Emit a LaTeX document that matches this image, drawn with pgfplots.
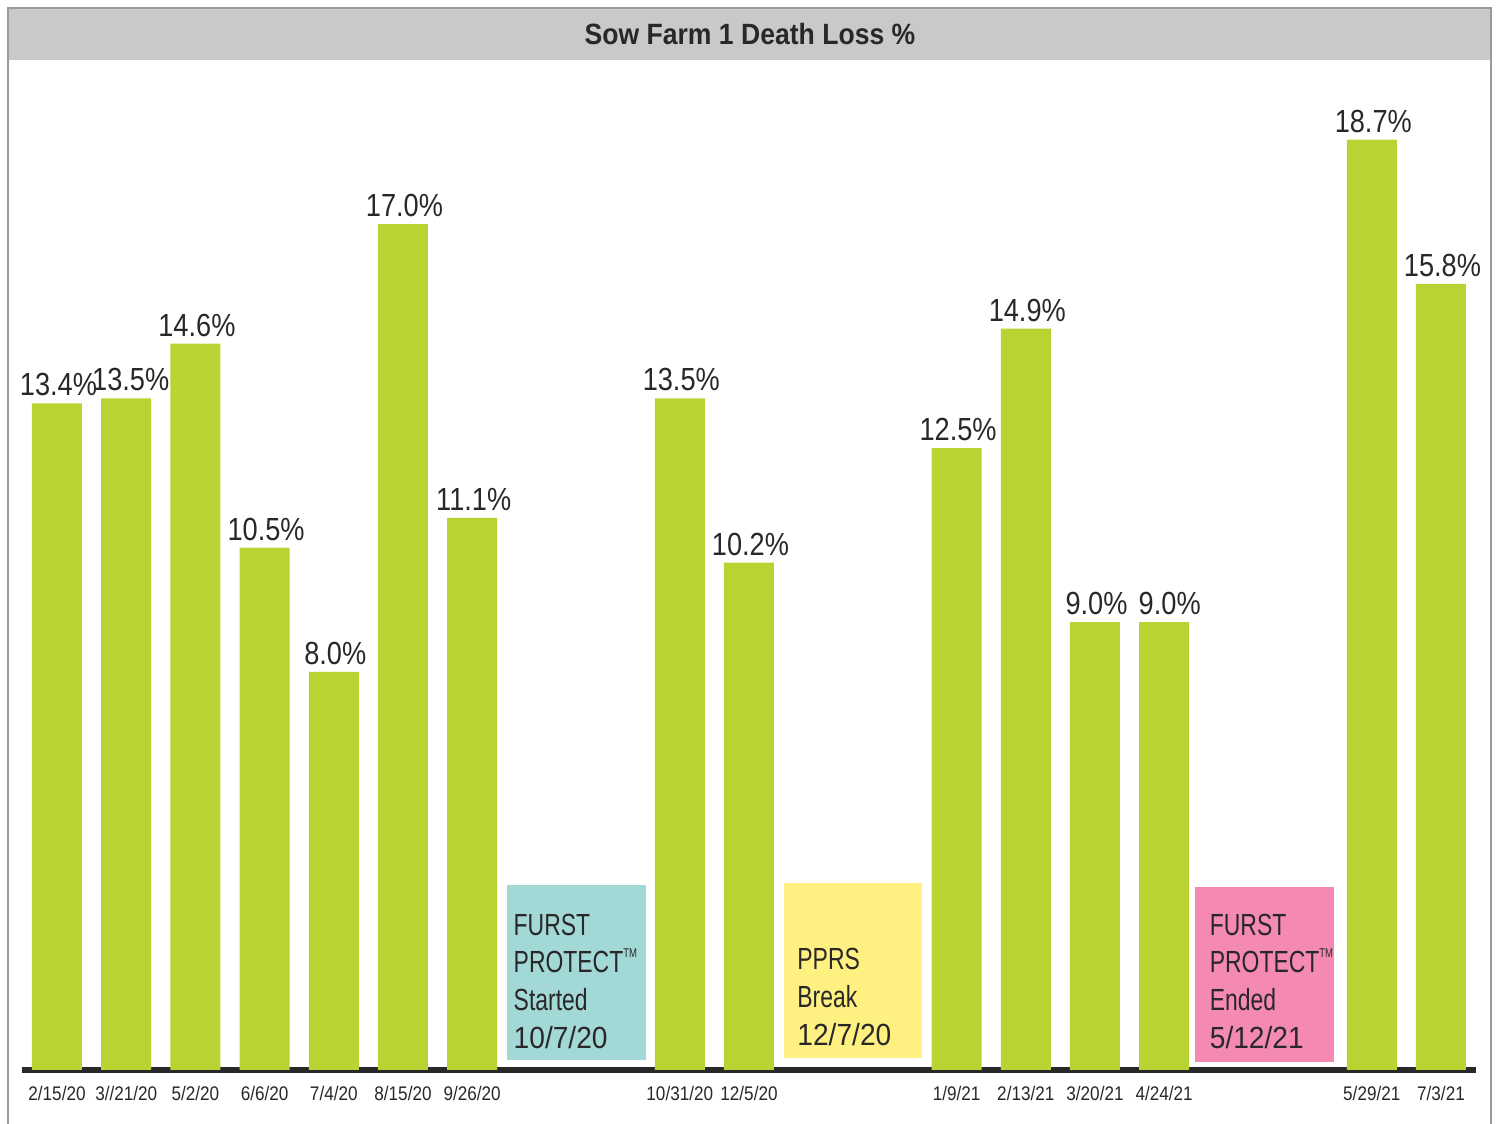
\documentclass[border=0pt]{standalone}
\usepackage{pgfplots}
\pgfplotsset{compat=1.18}
\usepackage{fontspec}
\setmainfont{Liberation Sans}
\newfontfamily\valfont{Liberation Sans}[FakeStretch=0.85]
\newfontfamily\annfont{Liberation Sans}[FakeStretch=0.75]
\newfontfamily\annnum{Liberation Sans}[FakeStretch=0.92]
\newfontfamily\tickfont{Liberation Sans}[FakeStretch=0.87]
\newfontfamily\titlefont{Liberation Sans}[FakeStretch=0.905]
\definecolor{barGreen}{HTML}{B8D432}
\definecolor{cyanbox}{HTML}{A2D9D7}
\definecolor{yellowbox}{HTML}{FEF081}
\definecolor{pinkbox}{HTML}{F48AB4}
\definecolor{titlegray}{HTML}{C8C9CB}
\definecolor{txt}{HTML}{2A2728}
\definecolor{framegray}{HTML}{9A9A9A}
\newcommand{\tm}{\raisebox{0.95ex}{\fontsize{3.6}{4}\selectfont TM}}
\begin{document}
\begin{tikzpicture}
\useasboundingbox (0,0) rectangle (14.97cm,11.24cm);
% title bar and frame
\fill[titlegray] (0.08cm,10.64cm) rectangle (14.91cm,11.16cm);
\draw[framegray, line width=0.35pt] (0.08cm,0cm) -- (0.08cm,11.16cm) -- (14.91cm,11.16cm) -- (14.91cm,0cm);
\node[font=\titlefont\bfseries\fontsize{8.35}{10}\selectfont, text=txt, anchor=center] at (7.50cm,10.90cm) {Sow Farm 1 Death Loss \%};
\begin{axis}[
  at={(0.224cm,0.54cm)}, anchor=south west,
  scale only axis, width=14.532cm, height=9.95cm,
  xmin=-0.5, xmax=20.5, ymin=0, ymax=20,
  axis line style={draw=none},
  ytick=\empty,
  major tick length=0pt,
  xtick={0,1,2,3,4,5,6,9,10,13,14,15,16,19,20},
  xticklabels={2/15/20,3//21/20,5/2/20,6/6/20,7/4/20,8/15/20,9/26/20,10/31/20,12/5/20,1/9/21,2/13/21,3/20/21,4/24/21,5/29/21,7/3/21},
  xticklabel style={anchor=base, yshift=-3.1mm, inner sep=0pt, font=\tickfont\fontsize{5.6}{6.5}\selectfont, text=txt},
  clip=false,
]
\draw[color=txt, line width=0.6mm] (axis cs:-0.5,0) -- (axis cs:20.5,0);
\addplot[ybar, bar width=0.5cm, fill=barGreen, draw=none,
  point meta=explicit symbolic,
  nodes near coords,
  nodes near coords style={anchor=base, yshift=0.75mm, xshift=0.15mm, inner sep=0pt, font=\valfont\fontsize{9.1}{10}\selectfont, text=txt},
] coordinates {
  (0,13.4) [13.4\%\hspace{0.7mm}]
  (1,13.5) [\hspace{0.6mm}13.5\%]
  (2,14.6) [14.6\%]
  (3,10.5) [10.5\%]
  (4,8.0) [8.0\%]
  (5,17.0) [17.0\%]
  (6,11.1) [11.1\%]
  (9,13.5) [13.5\%]
  (10,10.2) [10.2\%]
  (13,12.5) [12.5\%]
  (14,14.9) [14.9\%]
  (15,9.0) [9.0\%]
  (16,9.0) [\hspace{0.8mm}9.0\%]
  (19,18.7) [18.7\%]
  (20,15.8) [15.8\%]
};
% annotation boxes
\fill[cyanbox] (axis cs:6.503,0.20) rectangle (axis cs:8.512,3.72);
\fill[yellowbox] (axis cs:10.506,0.24) rectangle (axis cs:12.50,3.76);
\fill[pinkbox] (axis cs:16.445,0.16) rectangle (axis cs:18.454,3.68);
\node[anchor=north west, align=left, inner sep=0pt, text=txt, font=\annfont\fontsize{8.7}{10.8}\selectfont] at (axis cs:6.59,3.156) {FURST\\PROTECT\tm\\Started\\{\annnum 10/7/20}};
\node[anchor=north west, align=left, inner sep=0pt, text=txt, font=\annfont\fontsize{8.7}{10.8}\selectfont] at (axis cs:10.69,2.47) {PPRS\\Break\\{\annnum 12/7/20}};
\node[anchor=north west, align=left, inner sep=0pt, text=txt, font=\annfont\fontsize{8.7}{10.8}\selectfont] at (axis cs:16.65,3.156) {FURST\\PROTECT\tm\\Ended\\{\annnum 5/12/21}};
\end{axis}
\end{tikzpicture}
\end{document}
